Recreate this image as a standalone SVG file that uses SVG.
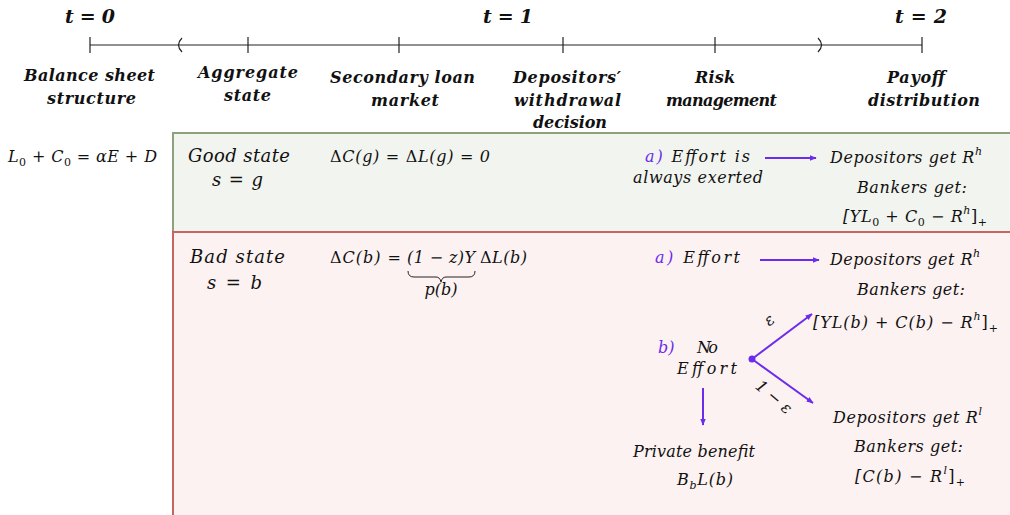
<svg xmlns="http://www.w3.org/2000/svg" width="1010" height="515" viewBox="0 0 1010 515">
<defs>
<marker id="ah" viewBox="0 0 10 10" refX="9" refY="5" markerWidth="7" markerHeight="7" orient="auto" markerUnits="userSpaceOnUse">
<path d="M0,1 L10,5 L0,9 z" fill="#6b2ced"/>
</marker>
<style>
text{font-family:"DejaVu Serif","Liberation Serif",serif;fill:#111}
.hd{font-weight:bold;font-style:italic;font-size:16px}
.tt{font-weight:bold;font-style:italic;font-size:19px}
.m{font-style:italic;font-size:16px}
.st{font-style:italic;font-size:18px}
.up{font-style:normal}
.c{text-anchor:middle}
.p{fill:#6b2ced;font-style:italic}
.tl{stroke:#222;stroke-width:1.2;fill:none}
.ar{stroke:#6b2ced;stroke-width:2;fill:none;marker-end:url(#ah)}
</style>
</defs>
<rect width="1010" height="515" fill="#fff"/>

<g id="timeline">
<line class="tl" x1="90" y1="45" x2="922" y2="45"/>
<line class="tl" x1="90" y1="37" x2="90" y2="53"/>
<line class="tl" x1="248" y1="37" x2="248" y2="53"/>
<line class="tl" x1="399" y1="37" x2="399" y2="53"/>
<line class="tl" x1="563" y1="37" x2="563" y2="53"/>
<line class="tl" x1="715" y1="37" x2="715" y2="53"/>
<line class="tl" x1="922" y1="37" x2="922" y2="53"/>
<path class="tl" d="M182,38 Q175,45 182,52"/>
<path class="tl" d="M818,38 Q825,45 818,52"/>
<text class="tt" x="65" y="23" textLength="50">t = 0</text>
<text class="tt" x="483" y="23" textLength="50">t = 1</text>
<text class="tt" x="895" y="23" textLength="52">t = 2</text>
<text class="hd" x="24" y="81" textLength="131">Balance sheet</text>
<text class="hd" x="47" y="104" textLength="89">structure</text>
<text class="hd" x="198" y="78" textLength="100">Aggregate</text>
<text class="hd" x="224" y="101" textLength="47">state</text>
<text class="hd" x="330" y="83" textLength="145">Secondary loan</text>
<text class="hd" x="371" y="106" textLength="68">market</text>
<text class="hd" x="513" y="83" textLength="108">Depositors′</text>
<text class="hd" x="514" y="106" textLength="107">withdrawal</text>
<text class="hd" x="533" y="128" textLength="74">decision</text>
<text class="hd" x="695" y="83" textLength="40">Risk</text>
<text class="hd" x="666" y="106" textLength="111">management</text>
<text class="hd" x="887" y="83" textLength="58">Payoff</text>
<text class="hd" x="868" y="106" textLength="112">distribution</text>
</g>

<g id="balance">
<text class="m" x="8" y="162" textLength="149">L<tspan class="up" font-size="11" dy="4">0</tspan><tspan dy="-4"> +  C</tspan><tspan class="up" font-size="11" dy="4">0</tspan><tspan dy="-4"> = αE + D</tspan></text>
</g>

<g id="good-state">
<rect x="173" y="133" width="845" height="99" fill="#f2f4ef" stroke="#8da17c" stroke-width="2"/>
<text class="st" x="188" y="162" textLength="102">Good state</text>
<text class="st" x="212" y="186" textLength="51">s = g</text>
<text class="m" x="330" y="162" textLength="160"><tspan class="up">Δ</tspan>C(g) = <tspan class="up">Δ</tspan>L(g) = 0</text>
<text class="m" x="645" y="162" textLength="105"><tspan class="p">a</tspan><tspan class="p up">)</tspan> Effort is</text>
<text class="m" x="633" y="183" textLength="130">always exerted</text>
<text class="m" x="830" y="163" textLength="152">Depositors get R<tspan font-size="11" dy="-8">h</tspan></text>
<text class="m" x="857" y="193" textLength="110">Bankers get:</text>
<text class="m" x="843" y="222" textLength="144">[YL<tspan class="up" font-size="11" dy="4">0</tspan><tspan dy="-4"> + C</tspan><tspan class="up" font-size="11" dy="4">0</tspan><tspan dy="-4"> −  R</tspan><tspan font-size="11" dy="-8">h</tspan><tspan class="up" dy="8">]</tspan><tspan class="up" font-size="11" dy="4">+</tspan></text>
</g>

<g id="bad-state">
<rect x="173" y="232" width="845" height="300" fill="#fdf2f2" stroke="#c96464" stroke-width="2"/>
<text class="st" x="190" y="263" textLength="95">Bad state</text>
<text class="st" x="207" y="289" textLength="55">s = b</text>
<text class="m" x="330" y="263" textLength="71"><tspan class="up">Δ</tspan>C(b) =</text>
<text class="m" x="407" y="263" textLength="68">(1 − z)Y</text>
<text class="m" x="480" y="263" textLength="47"><tspan class="up">Δ</tspan>L(b)</text>
<path d="M408,271 Q408,277 414,277 L436,277 Q440,277 441,282 Q442,277 446,277 L469,277 Q475,277 475,271" fill="none" stroke="#222" stroke-width="1"/>
<text class="m c" x="441" y="295" font-size="11">p(b)</text>
<text class="m" x="655" y="263" textLength="85"><tspan class="p">a</tspan><tspan class="p up">)</tspan> Effort</text>
<text class="m" x="830" y="265" textLength="150">Depositors get R<tspan font-size="11" dy="-8">h</tspan></text>
<text class="m" x="857" y="295" textLength="108">Bankers get:</text>
<text class="m" x="813" y="328" textLength="185">[YL(b) + C(b)  −  R<tspan font-size="11" dy="-8">h</tspan><tspan class="up" dy="8">]</tspan><tspan class="up" font-size="11" dy="4">+</tspan></text>
<text class="m" x="658" y="353"><tspan class="p">b</tspan><tspan class="p up">)</tspan></text>
<text class="m" x="697" y="353" textLength="21">No</text>
<text class="m" x="677" y="374" textLength="60">Effort</text>
<circle cx="752" cy="359" r="3.5" fill="#6b2ced"/>
<text class="m" x="633" y="457" textLength="122">Private benefit</text>
<text class="m" x="677" y="485" textLength="56">B<tspan font-size="11" dy="4">b</tspan><tspan dy="-4">L(b)</tspan></text>
<text class="m" x="833" y="423" textLength="149">Depositors get R<tspan font-size="11" dy="-8">l</tspan></text>
<text class="m" x="854" y="452" textLength="109">Bankers get:</text>
<text class="m" x="855" y="482" textLength="110">[C(b)  −  R<tspan font-size="11" dy="-8">l</tspan><tspan class="up" dy="8">]</tspan><tspan class="up" font-size="11" dy="4">+</tspan></text>
<text class="m c" x="770" y="325" font-size="14" transform="rotate(-38 770 321)">ε</text>
<text class="m c" x="773" y="402" font-size="14" transform="rotate(40 773 398)">1 − ε</text>
</g>

<g id="connectors">
<line class="ar" x1="765" y1="158" x2="816" y2="158"/>
<line class="ar" x1="760" y1="260" x2="819" y2="260"/>
<line class="ar" x1="752" y1="359" x2="812" y2="314"/>
<line class="ar" x1="752" y1="359" x2="813" y2="403"/>
<line class="ar" x1="703" y1="388" x2="703" y2="425"/>
</g>
</svg>
